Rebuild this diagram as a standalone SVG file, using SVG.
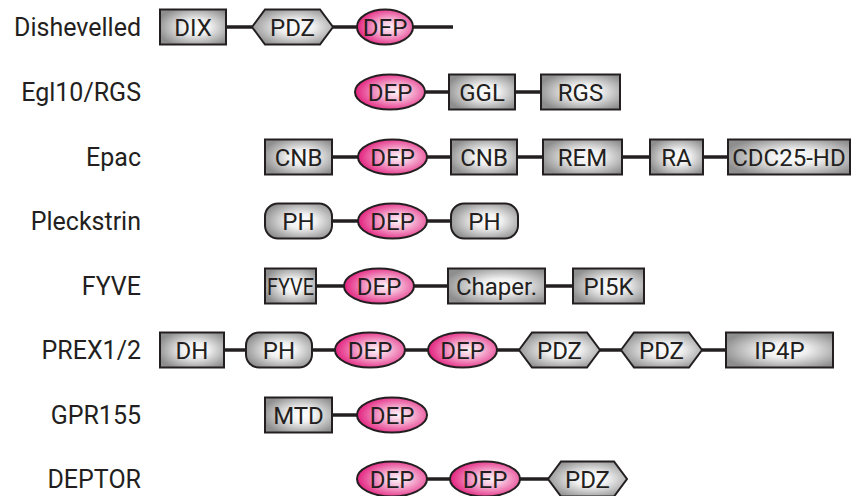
<svg xmlns="http://www.w3.org/2000/svg" width="860" height="496" viewBox="0 0 860 496">
<defs>
<radialGradient id="gGray" cx="0.55" cy="0.5" r="0.6">
<stop offset="0" stop-color="#ffffff"/>
<stop offset="0.35" stop-color="#f0f0f0"/>
<stop offset="1" stop-color="#8e8e8e"/>
</radialGradient>
<radialGradient id="gPink" cx="0.58" cy="0.5" r="0.6">
<stop offset="0" stop-color="#fdf0f6"/>
<stop offset="0.3" stop-color="#f7c2dc"/>
<stop offset="1" stop-color="#e2197a"/>
</radialGradient>
</defs>
<style>
.box{fill:url(#gGray);stroke:#231f20;stroke-width:2}
.dep{fill:url(#gPink);stroke:#231f20;stroke-width:2}
.link{stroke:#231f20;stroke-width:3.5;fill:none}
.t{font-family:Roboto,"Liberation Sans",Arial,sans-serif;font-size:24px;fill:#231f20;text-anchor:middle}
.lbl{font-family:Roboto,"Liberation Sans",Arial,sans-serif;font-size:25px;fill:#231f20;text-anchor:end}
</style>
<rect width="860" height="496" fill="#ffffff"/>
<g id="labels">
<text class="lbl" x="141" y="36">Dishevelled</text>
<text class="lbl" x="141" y="101">Egl10/RGS</text>
<text class="lbl" x="141" y="166">Epac</text>
<text class="lbl" x="141" y="230">Pleckstrin</text>
<text class="lbl" x="141" y="295">FYVE</text>
<text class="lbl" x="141" y="359">PREX1/2</text>
<text class="lbl" x="141" y="424">GPR155</text>
<text class="lbl" x="141" y="488">DEPTOR</text>
</g>
<g id="connectors">
<line class="link" x1="226" y1="27" x2="252" y2="27"/>
<line class="link" x1="333" y1="27" x2="357" y2="27"/>
<line class="link" x1="413" y1="27" x2="453" y2="27"/>
<line class="link" x1="425" y1="92" x2="449" y2="92"/>
<line class="link" x1="515" y1="92" x2="541" y2="92"/>
<line class="link" x1="332" y1="157" x2="358" y2="157"/>
<line class="link" x1="427" y1="157" x2="451" y2="157"/>
<line class="link" x1="517" y1="157" x2="543" y2="157"/>
<line class="link" x1="622" y1="157" x2="650" y2="157"/>
<line class="link" x1="703" y1="157" x2="728" y2="157"/>
<line class="link" x1="332" y1="221" x2="358" y2="221"/>
<line class="link" x1="427" y1="221" x2="451" y2="221"/>
<line class="link" x1="316" y1="286" x2="344" y2="286"/>
<line class="link" x1="414" y1="286" x2="448" y2="286"/>
<line class="link" x1="545" y1="286" x2="573" y2="286"/>
<line class="link" x1="224" y1="350" x2="246" y2="350"/>
<line class="link" x1="312" y1="350" x2="335" y2="350"/>
<line class="link" x1="405" y1="350" x2="428" y2="350"/>
<line class="link" x1="497" y1="350" x2="519" y2="350"/>
<line class="link" x1="600" y1="350" x2="621" y2="350"/>
<line class="link" x1="702" y1="350" x2="726" y2="350"/>
<line class="link" x1="332" y1="415" x2="357" y2="415"/>
<line class="link" x1="427" y1="479" x2="450" y2="479"/>
<line class="link" x1="520" y1="479" x2="548" y2="479"/>
</g>
<g id="dishevelled-DIX"><rect class="box" x="160" y="9.5" width="66" height="35"/><text class="t" x="193" y="35.5">DIX</text></g>
<g id="dishevelled-PDZ"><polygon class="box" points="252,27 265,9.5 320,9.5 333,27 320,44.5 265,44.5"/><text class="t" x="292.5" y="35.5">PDZ</text></g>
<g id="dishevelled-DEP"><ellipse class="dep" cx="385" cy="27" rx="28" ry="17.5"/><text class="t" x="385" y="35.5">DEP</text></g>

<g id="egl10-DEP"><ellipse class="dep" cx="390" cy="92" rx="35" ry="17.5"/><text class="t" x="390" y="100.5">DEP</text></g>
<g id="egl10-GGL"><rect class="box" x="449" y="74.5" width="66" height="35"/><text class="t" x="482" y="100.5">GGL</text></g>
<g id="egl10-RGS"><rect class="box" x="541" y="74.5" width="79" height="35"/><text class="t" x="580.5" y="100.5">RGS</text></g>

<g id="epac-CNB1"><rect class="box" x="265" y="139.5" width="67" height="35"/><text class="t" x="298.5" y="165.5">CNB</text></g>
<g id="epac-DEP"><ellipse class="dep" cx="392.5" cy="157" rx="34.5" ry="17.5"/><text class="t" x="392.5" y="165.5">DEP</text></g>
<g id="epac-CNB2"><rect class="box" x="451" y="139.5" width="66" height="35"/><text class="t" x="484" y="165.5">CNB</text></g>
<g id="epac-REM"><rect class="box" x="543" y="139.5" width="79" height="35"/><text class="t" x="582.5" y="165.5">REM</text></g>
<g id="epac-RA"><rect class="box" x="650" y="139.5" width="53" height="35"/><text class="t" x="676.5" y="165.5">RA</text></g>
<g id="epac-CDC25HD"><rect class="box" x="728" y="139.5" width="122" height="35"/><text class="t" x="789" y="165.5">CDC25-HD</text></g>

<g id="pleckstrin-PH1"><rect class="box" x="265" y="203.5" width="67" height="35" rx="13"/><text class="t" x="298.5" y="229.5">PH</text></g>
<g id="pleckstrin-DEP"><ellipse class="dep" cx="392.5" cy="221" rx="34.5" ry="17.5"/><text class="t" x="392.5" y="229.5">DEP</text></g>
<g id="pleckstrin-PH2"><rect class="box" x="451" y="203.5" width="67" height="35" rx="13"/><text class="t" x="484.5" y="229.5">PH</text></g>

<g id="fyve-FYVE"><rect class="box" x="265" y="268.5" width="51" height="35"/><text class="t" x="290.5" y="294.5" textLength="47" lengthAdjust="spacingAndGlyphs">FYVE</text></g>
<g id="fyve-DEP"><ellipse class="dep" cx="379" cy="286" rx="35" ry="17.5"/><text class="t" x="379" y="294.5">DEP</text></g>
<g id="fyve-Chaper"><rect class="box" x="448" y="268.5" width="97" height="35"/><text class="t" x="496.5" y="294.5">Chaper.</text></g>
<g id="fyve-PI5K"><rect class="box" x="573" y="268.5" width="71" height="35"/><text class="t" x="608.5" y="294.5">PI5K</text></g>

<g id="prex-DH"><rect class="box" x="160" y="332.5" width="64" height="35"/><text class="t" x="192" y="358.5">DH</text></g>
<g id="prex-PH"><rect class="box" x="246" y="332.5" width="66" height="35" rx="13"/><text class="t" x="279" y="358.5">PH</text></g>
<g id="prex-DEP1"><ellipse class="dep" cx="370" cy="350" rx="35" ry="17.5"/><text class="t" x="370" y="358.5">DEP</text></g>
<g id="prex-DEP2"><ellipse class="dep" cx="462.5" cy="350" rx="34.5" ry="17.5"/><text class="t" x="462.5" y="358.5">DEP</text></g>
<g id="prex-PDZ1"><polygon class="box" points="519,350 532,332.5 587,332.5 600,350 587,367.5 532,367.5"/><text class="t" x="559.5" y="358.5">PDZ</text></g>
<g id="prex-PDZ2"><polygon class="box" points="621,350 634,332.5 689,332.5 702,350 689,367.5 634,367.5"/><text class="t" x="661.5" y="358.5">PDZ</text></g>
<g id="prex-IP4P"><rect class="box" x="726" y="332.5" width="107" height="35"/><text class="t" x="779.5" y="358.5">IP4P</text></g>

<g id="gpr155-MTD"><rect class="box" x="265" y="397.5" width="67" height="35"/><text class="t" x="298.5" y="423.5">MTD</text></g>
<g id="gpr155-DEP"><ellipse class="dep" cx="392" cy="415" rx="35" ry="17.5"/><text class="t" x="392" y="423.5">DEP</text></g>

<g id="deptor-DEP1"><ellipse class="dep" cx="392" cy="479" rx="35" ry="17.5"/><text class="t" x="392" y="487.5">DEP</text></g>
<g id="deptor-DEP2"><ellipse class="dep" cx="485" cy="479" rx="35" ry="17.5"/><text class="t" x="485" y="487.5">DEP</text></g>
<g id="deptor-PDZ"><polygon class="box" points="548,479 561,461.5 614,461.5 627,479 614,496.5 561,496.5"/><text class="t" x="587.5" y="487.5">PDZ</text></g>
</svg>
